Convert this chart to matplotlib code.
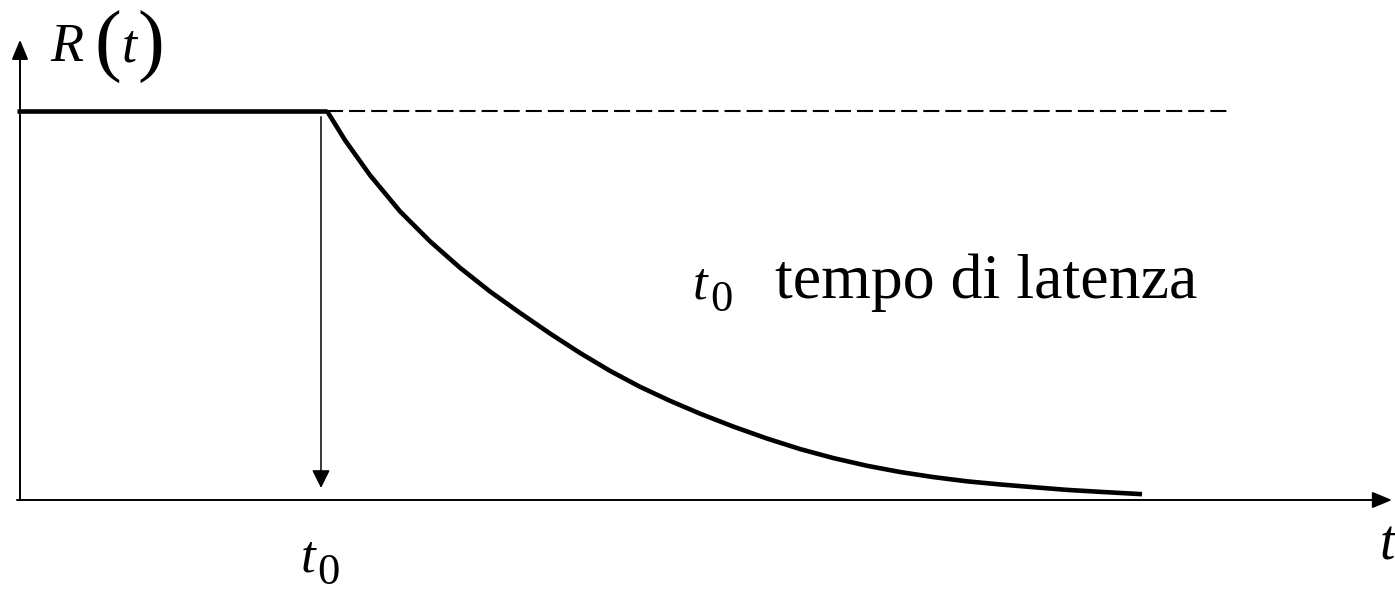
import matplotlib.pyplot as plt

# curve R(t) (t in arbitrary units, R normalised to 1)
curve_t = [3.07, 3.25, 3.50, 3.80, 4.10, 4.40, 4.70, 5.00, 5.30, 5.60, 5.90,
           6.20, 6.50, 6.80, 7.13, 7.47, 7.80, 8.13, 8.47, 8.80, 9.13, 9.47,
           9.80, 10.13, 10.47, 10.80, 11.22]
curve_R = [1.000, 0.925, 0.835, 0.742, 0.665, 0.597, 0.536, 0.481, 0.428, 0.378,
           0.332, 0.291, 0.255, 0.222, 0.189, 0.158, 0.131, 0.108, 0.088, 0.072,
           0.059, 0.048, 0.040, 0.033, 0.026, 0.021, 0.015]

plateau_t = [-0.03, 3.07]
plateau_R = [1.0, 1.0]

dashed_t = [3.07, 12.12]
dashed_R = [1.0, 1.0]

t0 = 3.01
t0_arrow_R = [0.985, 0.031]

t_axis = [-0.03, 13.72]
R_axis = [0.0, 1.183]

plt.rcParams['font.family'] = ['Liberation Serif', 'DejaVu Serif']

fig = plt.figure(figsize=(13.95, 5.92), dpi=100)
ax = fig.add_axes([0, 0, 1, 1])
ax.set_xlim(-0.2, 13.75)
ax.set_ylim(-0.2365, 1.2853)
ax.axis('off')

arrow = dict(arrowstyle='-|>,head_length=12,head_width=5', mutation_scale=1,
             color='black', lw=1.4, shrinkA=0, shrinkB=0)

# axes with arrow heads
ax.annotate('', xy=(t_axis[1], 0), xytext=(t_axis[0], 0), arrowprops=arrow)
ax.annotate('', xy=(0, R_axis[1]), xytext=(0, R_axis[0]), arrowprops=arrow)

# latency arrow
arrow_t0 = dict(arrow, lw=1.1, arrowstyle='-|>,head_length=11,head_width=5.5')
ax.annotate('', xy=(t0, t0_arrow_R[1]), xytext=(t0, t0_arrow_R[0]),
            arrowprops=arrow_t0)

ax.plot(dashed_t, dashed_R, color='black', lw=1.5, linestyle=(0, (7.7, 2.9)))
ax.plot(plateau_t, plateau_R, color='black', lw=3.3, solid_capstyle='butt')
ax.plot(curve_t, curve_R, color='black', lw=3.3, solid_joinstyle='round',
        solid_capstyle='butt')

# R(t) label
ax.text(0.30, 1.128, 'R', fontsize=39, style='italic', va='baseline', ha='left')
ax.text(0.74, 1.113, '(', fontsize=58, va='baseline', ha='left')
ax.text(1.02, 1.128, 't', fontsize=39, style='italic', va='baseline', ha='left')
ax.text(1.17, 1.113, ')', fontsize=58, va='baseline', ha='left')

# t axis label
ax.text(13.60, -0.154, 't', fontsize=40, style='italic', va='baseline', ha='left')

# t0 under the axis
ax.text(2.81, -0.185, 't', fontsize=38, style='italic', va='baseline', ha='left')
ax.text(2.97, -0.215, '0', fontsize=32, va='baseline', ha='left')

# annotation
ax.text(6.73, 0.519, 't', fontsize=38, style='italic', va='baseline', ha='left')
ax.text(6.90, 0.486, '0', fontsize=32, va='baseline', ha='left')
ax.text(7.55, 0.519, 'tempo di latenza', fontsize=46, va='baseline', ha='left')

fig.savefig('out.png', dpi=100)
